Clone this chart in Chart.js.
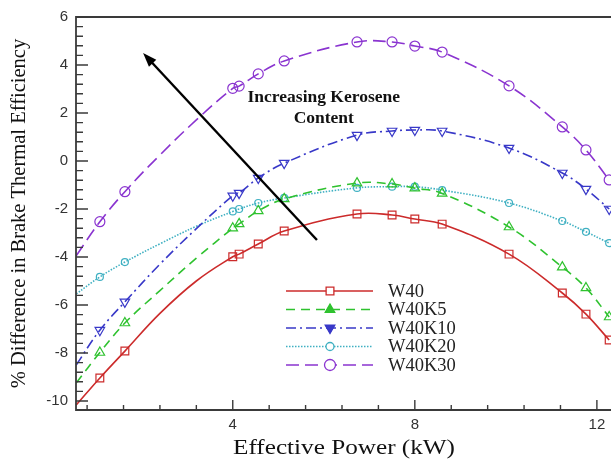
<!DOCTYPE html>
<html>
<head>
<meta charset="utf-8">
<script src="https://cdn.jsdelivr.net/npm/chart.js@4.4.1/dist/chart.umd.min.js"></script>
<style>
  html, body { margin: 0; padding: 0; background: #fff; }
  #wrap { width: 611px; height: 462px; }
</style>
</head>
<body>
<div id="wrap"><canvas id="bte-chart"></canvas></div>
<script>
// Effective power (kW) of each sample along the curves
const powerKw = [0.56, 1.08, 1.63, 2.4, 3.2, 4.0, 4.14, 4.56, 5.13, 6.73, 7.5, 8.0, 8.6, 10.07, 11.24, 11.76, 12.27];
// samples that carry a symbol (the others only shape the line)
const hasSymbol = [false, true, true, false, false, true, true, true, true, true, true, true, true, true, true, true, true];

const seriesNames = ['W40', 'W40K5', 'W40K10', 'W40K20', 'W40K30'];

// % difference in brake thermal efficiency
const w40   = [-10.17, -9.04, -7.92, -6.35, -5.0, -3.99, -3.88, -3.46, -2.92, -2.21, -2.25, -2.42, -2.63, -3.88, -5.5, -6.38, -7.46];
const w40k5 = [-9.25, -7.98, -6.75, -5.4, -4.05, -2.8, -2.62, -2.08, -1.58, -0.92, -0.96, -1.13, -1.35, -2.75, -4.42, -5.29, -6.5];
const w40k10 = [-8.5, -7.05, -5.87, -4.3, -2.82, -1.45, -1.34, -0.71, -0.09, 1.08, 1.25, 1.29, 1.25, 0.54, -0.5, -1.17, -2.0];
const w40k20 = [-5.54, -4.83, -4.21, -3.45, -2.72, -2.1, -2.0, -1.75, -1.54, -1.12, -1.07, -1.07, -1.21, -1.75, -2.5, -2.95, -3.42];
const w40k30 = [-3.95, -2.53, -1.28, 0.25, 1.71, 3.03, 3.12, 3.63, 4.17, 4.96, 4.96, 4.79, 4.54, 3.13, 1.42, 0.46, -0.79];

const seriesValues = [w40, w40k5, w40k10, w40k20, w40k30];

const xTicks = [4, 8, 12];
const yTicks = [-10, -8, -6, -4, -2, 0, 2, 4, 6];

const xRange = [0.556, 12.31];
const yRange = [-10.375, 6];

// arrow annotation (data coordinates)
const arrowFrom = { x: 5.85, y: -3.29 };
const arrowTo = { x: 2.03, y: 4.5 };
const noteLines = ['Increasing Kerosene', 'Content'];
const noteAt = { x: 6.0, y: 2.63 };

const seriesStyle = [
  { color: '#cc2b2b', dash: [], symbol: 'rect', radius: 5.5, rotation: 0, legendFill: false },
  { color: '#2fc22f', dash: [9, 6], symbol: 'triangle', radius: 5.5, rotation: 0, legendFill: true },
  { color: '#3838c8', dash: [10, 4, 2, 4], symbol: 'triangle', radius: 5.5, rotation: 180, legendFill: true },
  { color: '#3fb0c2', dash: [1.5, 1.5], symbol: 'circle', radius: 3.5, rotation: 0, legendFill: false },
  { color: '#8a34d0', dash: [13, 6], symbol: 'circle', radius: 5, rotation: 0, legendFill: false },
];

const axisColor = '#3a3a3a';

const datasets = seriesNames.map((name, i) => {
  const st = seriesStyle[i];
  return {
    label: name,
    data: powerKw.map((x, k) => ({ x, y: seriesValues[i][k] })),
    borderColor: st.color,
    borderWidth: 1.6,
    borderDash: st.dash,
    backgroundColor: 'transparent',
    pointStyle: st.symbol,
    pointRotation: st.rotation,
    pointRadius: (ctx) => (hasSymbol[ctx.dataIndex] ? st.radius : 0),
    pointBorderColor: st.color,
    pointBackgroundColor: 'transparent',
    pointBorderWidth: 1.2,
    tension: 0.4,
    fill: false,
  };
});

// frame, inward ticks, arrow, note, legend and x title
const decorations = {
  id: 'decorations',
  afterDraw(chart) {
    const { ctx, chartArea: a, scales: { x, y } } = chart;
    ctx.save();

    // frame (left, bottom, top)
    ctx.strokeStyle = axisColor;
    ctx.lineWidth = 1.8;
    ctx.setLineDash([]);
    ctx.beginPath();
    ctx.moveTo(a.right, a.top);
    ctx.lineTo(a.left, a.top);
    ctx.lineTo(a.left, a.bottom);
    ctx.lineTo(a.right, a.bottom);
    ctx.stroke();

    // ticks
    ctx.lineWidth = 1.4;
    ctx.beginPath();
    for (let v = 0.8; v <= xRange[1]; v += 0.8) {
      const major = xTicks.some((t) => Math.abs(t - v) < 1e-6);
      const px = x.getPixelForValue(v);
      ctx.moveTo(px, a.bottom);
      ctx.lineTo(px, a.bottom - (major ? 10 : 5));
    }
    for (let v = -10; v <= yRange[1] + 1e-6; v += 0.4) {
      const major = yTicks.some((t) => Math.abs(t - v) < 1e-6);
      const py = y.getPixelForValue(v);
      ctx.moveTo(a.left, py);
      ctx.lineTo(a.left + (major ? 12 : 7), py);
    }
    ctx.stroke();

    // arrow
    const x0 = x.getPixelForValue(arrowFrom.x), y0 = y.getPixelForValue(arrowFrom.y);
    const x1 = x.getPixelForValue(arrowTo.x), y1 = y.getPixelForValue(arrowTo.y);
    const ang = Math.atan2(y1 - y0, x1 - x0);
    const headLen = 14, headHalf = 5;
    ctx.strokeStyle = '#000';
    ctx.fillStyle = '#000';
    ctx.lineWidth = 2.4;
    ctx.beginPath();
    ctx.moveTo(x0, y0);
    ctx.lineTo(x1 - Math.cos(ang) * headLen * 0.8, y1 - Math.sin(ang) * headLen * 0.8);
    ctx.stroke();
    ctx.beginPath();
    ctx.moveTo(x1, y1);
    ctx.lineTo(x1 - Math.cos(ang) * headLen - Math.sin(ang) * headHalf, y1 - Math.sin(ang) * headLen + Math.cos(ang) * headHalf);
    ctx.lineTo(x1 - Math.cos(ang) * headLen + Math.sin(ang) * headHalf, y1 - Math.sin(ang) * headLen - Math.cos(ang) * headHalf);
    ctx.closePath();
    ctx.fill();

    // note text
    ctx.font = 'bold 17.5px "Liberation Serif", "Times New Roman", serif';
    ctx.textAlign = 'center';
    ctx.textBaseline = 'middle';
    ctx.fillStyle = '#111';
    const nx = x.getPixelForValue(noteAt.x), ny = y.getPixelForValue(noteAt.y);
    noteLines.forEach((t, i) => ctx.fillText(t, nx, ny + i * 20.5));

    // legend
    const lgLeft = a.left + 210, lgRight = a.left + 297, lgMid = a.left + 254;
    const lgTop = a.top + 274, lgStep = 18.5;
    chart.data.datasets.forEach((ds, i) => {
      const st = seriesStyle[i];
      const ly = lgTop + i * lgStep;
      ctx.strokeStyle = st.color;
      ctx.lineWidth = 1.6;
      ctx.setLineDash(st.dash);
      ctx.beginPath();
      ctx.moveTo(lgLeft, ly);
      ctx.lineTo(lgRight, ly);
      ctx.stroke();
      ctx.setLineDash([]);
      ctx.lineWidth = 1.3;
      ctx.fillStyle = st.legendFill ? st.color : '#fff';
      Chart.helpers.drawPoint(ctx, {
        pointStyle: st.symbol,
        radius: st.symbol === 'circle' ? st.radius + 0.5 : st.radius,
        rotation: st.rotation,
        borderWidth: 1.3,
      }, lgMid, ly);
      if (st.legendFill) ctx.fill();
      ctx.fillStyle = '#222';
      ctx.font = '18.5px "Liberation Serif", "Times New Roman", serif';
      ctx.textAlign = 'left';
      ctx.textBaseline = 'middle';
      ctx.fillText(ds.label, lgRight + 15, ly + 1);
    });

    // x axis title, drawn a little wide
    const title = 'Effective Power (kW)';
    ctx.font = '20px "Liberation Serif", "Times New Roman", serif';
    ctx.fillStyle = '#111';
    ctx.textAlign = 'center';
    ctx.textBaseline = 'middle';
    const w = ctx.measureText(title).width;
    ctx.translate(344, 449);
    ctx.scale(222 / w, 1);
    ctx.fillText(title, 0, 0);

    ctx.restore();
  },
};

new Chart(document.getElementById('bte-chart'), {
  type: 'line',
  data: { datasets },
  options: {
    responsive: true,
    maintainAspectRatio: false,
    animation: false,
    layout: { autoPadding: false, padding: { top: 17, right: 0, left: 0, bottom: 0 } },
    plugins: {
      legend: { display: false },
      tooltip: { enabled: false },
    },
    scales: {
      x: {
        type: 'linear',
        min: xRange[0],
        max: xRange[1],
        afterBuildTicks: (scale) => { scale.ticks = xTicks.map((v) => ({ value: v })); },
        afterFit: (scale) => {
          scale.height = 52;
          // plot runs right up to the canvas edge
          scale.paddingLeft = 0;
          scale.paddingRight = 0;
        },
        grid: { display: false, drawTicks: false },
        border: { display: false },
        ticks: {
          padding: 6,
          color: '#333',
          font: { family: '"Liberation Sans", Arial, sans-serif', size: 15 },
        },
      },
      y: {
        type: 'linear',
        min: yRange[0],
        max: yRange[1],
        afterBuildTicks: (scale) => { scale.ticks = yTicks.map((v) => ({ value: v })); },
        afterFit: (scale) => {
          scale.width = 76;
          scale.paddingTop = 0;
          scale.paddingBottom = 0;
        },
        grid: { display: false, drawTicks: false },
        border: { display: false },
        ticks: {
          padding: 8,
          color: '#333',
          font: { family: '"Liberation Sans", Arial, sans-serif', size: 15 },
        },
        title: {
          display: true,
          text: '% Difference in Brake Thermal Efficiency',
          color: '#111',
          font: { family: '"Liberation Serif", "Times New Roman", serif', size: 20.5 },
          padding: { top: 7, bottom: 0 },
        },
      },
    },
  },
  plugins: [decorations],
});
</script>
</body>
</html>
